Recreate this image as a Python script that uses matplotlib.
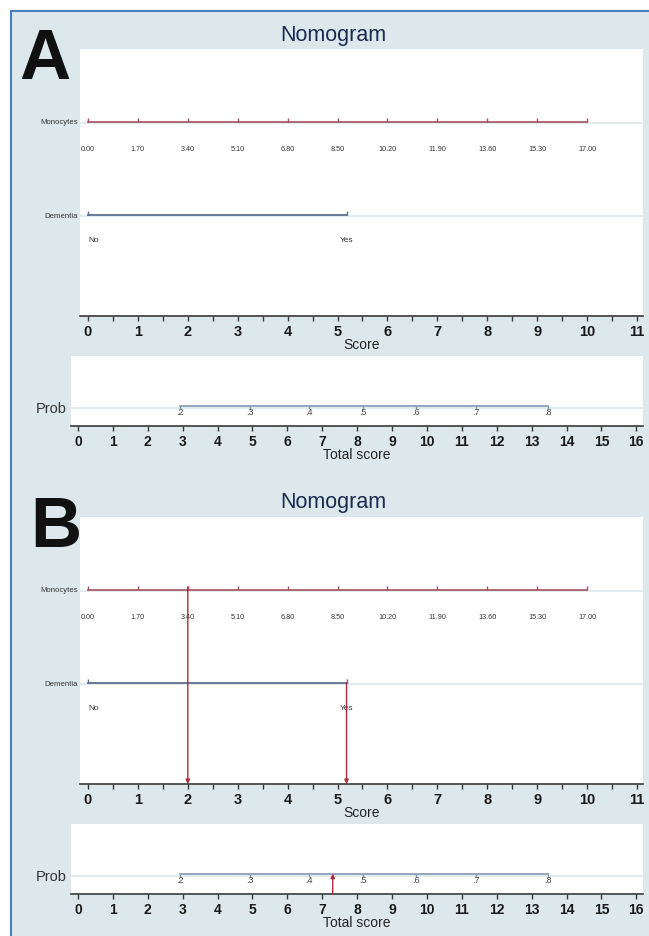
import matplotlib
matplotlib.use("Agg")
import matplotlib.pyplot as plt
from matplotlib import font_manager
from matplotlib.patches import Rectangle

# ---- data ----
mono_labels = ["0.00", "1.70", "3.40", "5.10", "6.80", "8.50",
               "10.20", "11.90", "13.60", "15.30", "17.00"]
mono_points = [0, 1, 2, 3, 4, 5, 6, 7, 8, 9, 10]
dementia_labels = ["No", "Yes"]
dementia_points = [0, 5.18]
prob_labels = [".2", ".3", ".4", ".5", ".6", ".7", ".8"]
prob_total = [2.92, 4.93, 6.63, 8.17, 9.68, 11.40, 13.47]
score_ticks = list(range(0, 12))
total_ticks = list(range(0, 17))

# worked example in panel B (monocytes 3.40, dementia yes)
example_mono = 2.0
example_dementia = 5.18
example_total = 7.30

W, H = 649, 937
BG = "#dde8ec"
MONO_COL = "#a2505f"
DEM_COL = "#5b6f8e"
PROB_COL = "#8196b3"
ARROW_COL = "#b3293b"
GRID_COL = "#e3ebef"

names = [f.name for f in font_manager.fontManager.ttflist]
NARROW = "Liberation Sans Narrow" if "Liberation Sans Narrow" in names else "Liberation Sans"
plt.rcParams["font.family"] = [NARROW, "DejaVu Sans"]


def rect(left, top, right, bottom):
    return [left / W, 1 - bottom / H, (right - left) / W, (bottom - top) / H]


def style_axis(ax):
    ax.set_facecolor("white")
    for s in ["top", "left", "right"]:
        ax.spines[s].set_visible(False)
    ax.spines["bottom"].set_color("#3a3a3a")
    ax.spines["bottom"].set_linewidth(1.2)
    ax.set_yticks([])
    ax.set_ylim(0, 1)
    ax.tick_params(axis="x", which="both", direction="out", length=3.5,
                   width=1, color="#3a3a3a", pad=2.5)


def row_name(ax, y, name, size, dx):
    ax.annotate(name, xy=(0, y), xycoords=("axes fraction", "data"),
                xytext=(dx, 0), textcoords="offset points",
                ha="right", va="center", fontsize=size,
                family=["Liberation Sans", "DejaVu Sans"], color="#333333")


def draw_panel(fig, off, letter, letter_x, arrows):
    fig.text(333 / W, 1 - (35 + off) / H, "Nomogram", ha="center", va="center",
             fontsize=15.5, color="#1c2a52", family=["Liberation Sans"])
    fig.text(letter_x / W, 1 - (79 + off) / H, letter, ha="left", va="baseline",
             fontsize=51, fontweight="bold", color="#111111",
             family=["Liberation Sans"])

    # points panel
    ax = fig.add_axes(rect(80, 50 + off, 643, 317 + off))
    style_axis(ax)
    ax.set_xlim(-0.16, 11.12)
    ax.set_xticks(score_ticks)
    ax.set_xticks([t + 0.5 for t in score_ticks[:-1]], minor=True)
    ax.set_xticklabels([str(t) for t in score_ticks], fontsize=10.5,
                       fontweight="bold", color="#1a1a1a")
    ax.set_xlabel("Score", fontsize=10, labelpad=-1, color="#222222")

    y_mono, y_dem = 0.727, 0.378
    for y in (y_mono, y_dem):
        ax.axhline(y - 0.005, color=GRID_COL, lw=1.5, zorder=0)

    ax.plot([mono_points[0], mono_points[-1]], [y_mono, y_mono],
            color=MONO_COL, lw=1.2, zorder=2)
    ax.plot(mono_points, [y_mono] * len(mono_points), ls="none", marker=2,
            ms=3.2, mew=1, color=MONO_COL, zorder=2)
    for p, lab in zip(mono_points, mono_labels):
        ax.annotate(lab, xy=(p, y_mono), xytext=(0, -19), textcoords="offset points",
                    ha="center", va="center", fontsize=5.2, color="#333333",
                    family=["Liberation Sans"])
    row_name(ax, y_mono, "Monocytes", 5.6, -1.5)

    ax.plot(dementia_points, [y_dem, y_dem], color=DEM_COL, lw=1.3, zorder=2)
    ax.plot(dementia_points, [y_dem, y_dem], ls="none", marker=2,
            ms=2.8, mew=1, color=DEM_COL, zorder=2)
    ax.annotate(dementia_labels[0], xy=(dementia_points[0], y_dem), xytext=(0, -17.5),
                textcoords="offset points", ha="left", va="center", fontsize=6,
                color="#333333", family=["Liberation Sans"])
    ax.annotate(dementia_labels[1], xy=(dementia_points[1], y_dem), xytext=(0, -17.5),
                textcoords="offset points", ha="center", va="center", fontsize=6,
                color="#333333", family=["Liberation Sans"])
    row_name(ax, y_dem, "Dementia", 5.6, -1.5)

    # probability panel
    bx = fig.add_axes(rect(71, 357 + off, 643, 427 + off))
    style_axis(bx)
    bx.set_xlim(-0.2, 16.19)
    bx.set_xticks(total_ticks)
    bx.set_xticklabels([str(t) for t in total_ticks], fontsize=10,
                       fontweight="bold", color="#1a1a1a")
    bx.set_xlabel("Total score", fontsize=10, labelpad=-1, color="#222222")

    y_prob = 0.29
    bx.axhline(y_prob - 0.03, color=GRID_COL, lw=1.5, zorder=0)
    bx.plot([prob_total[0], prob_total[-1]], [y_prob, y_prob],
            color=PROB_COL, lw=1.2, zorder=2)
    bx.plot(prob_total, [y_prob] * len(prob_total), ls="none", marker=3,
            ms=2.5, mew=1, color=PROB_COL, zorder=2)
    for p, lab in zip(prob_total, prob_labels):
        bx.annotate(lab, xy=(p, y_prob), xytext=(0, -4.5), textcoords="offset points",
                    ha="center", va="center", fontsize=6.5, color="#444444",
                    family=["Liberation Sans"])
    row_name(bx, y_prob - 0.03, "Prob", 10.5, -3)

    if arrows:
        style = dict(arrowstyle="-|>", color=ARROW_COL, lw=1, mutation_scale=6,
                     shrinkA=0, shrinkB=0)
        ax.annotate("", xy=(example_mono, 0), xytext=(example_mono, y_mono + 0.012),
                    arrowprops=style, zorder=3)
        ax.annotate("", xy=(example_dementia, 0), xytext=(example_dementia, y_dem),
                    arrowprops=style, zorder=3)
        bx.annotate("", xy=(example_total, y_prob), xytext=(example_total, 0),
                    arrowprops=style, zorder=3)


fig = plt.figure(figsize=(W / 100, H / 100), dpi=100, facecolor="white")
fig.patches.append(Rectangle((11 / W, -0.01), 1.0, (H - 12) / H + 0.01,
                             transform=fig.transFigure, facecolor=BG,
                             edgecolor="#4a7cc4", lw=1.5, zorder=-10))

draw_panel(fig, 0, "A", 19, arrows=False)
draw_panel(fig, 468, "B", 30, arrows=True)

fig.savefig("out.png", dpi=100, facecolor="white")
